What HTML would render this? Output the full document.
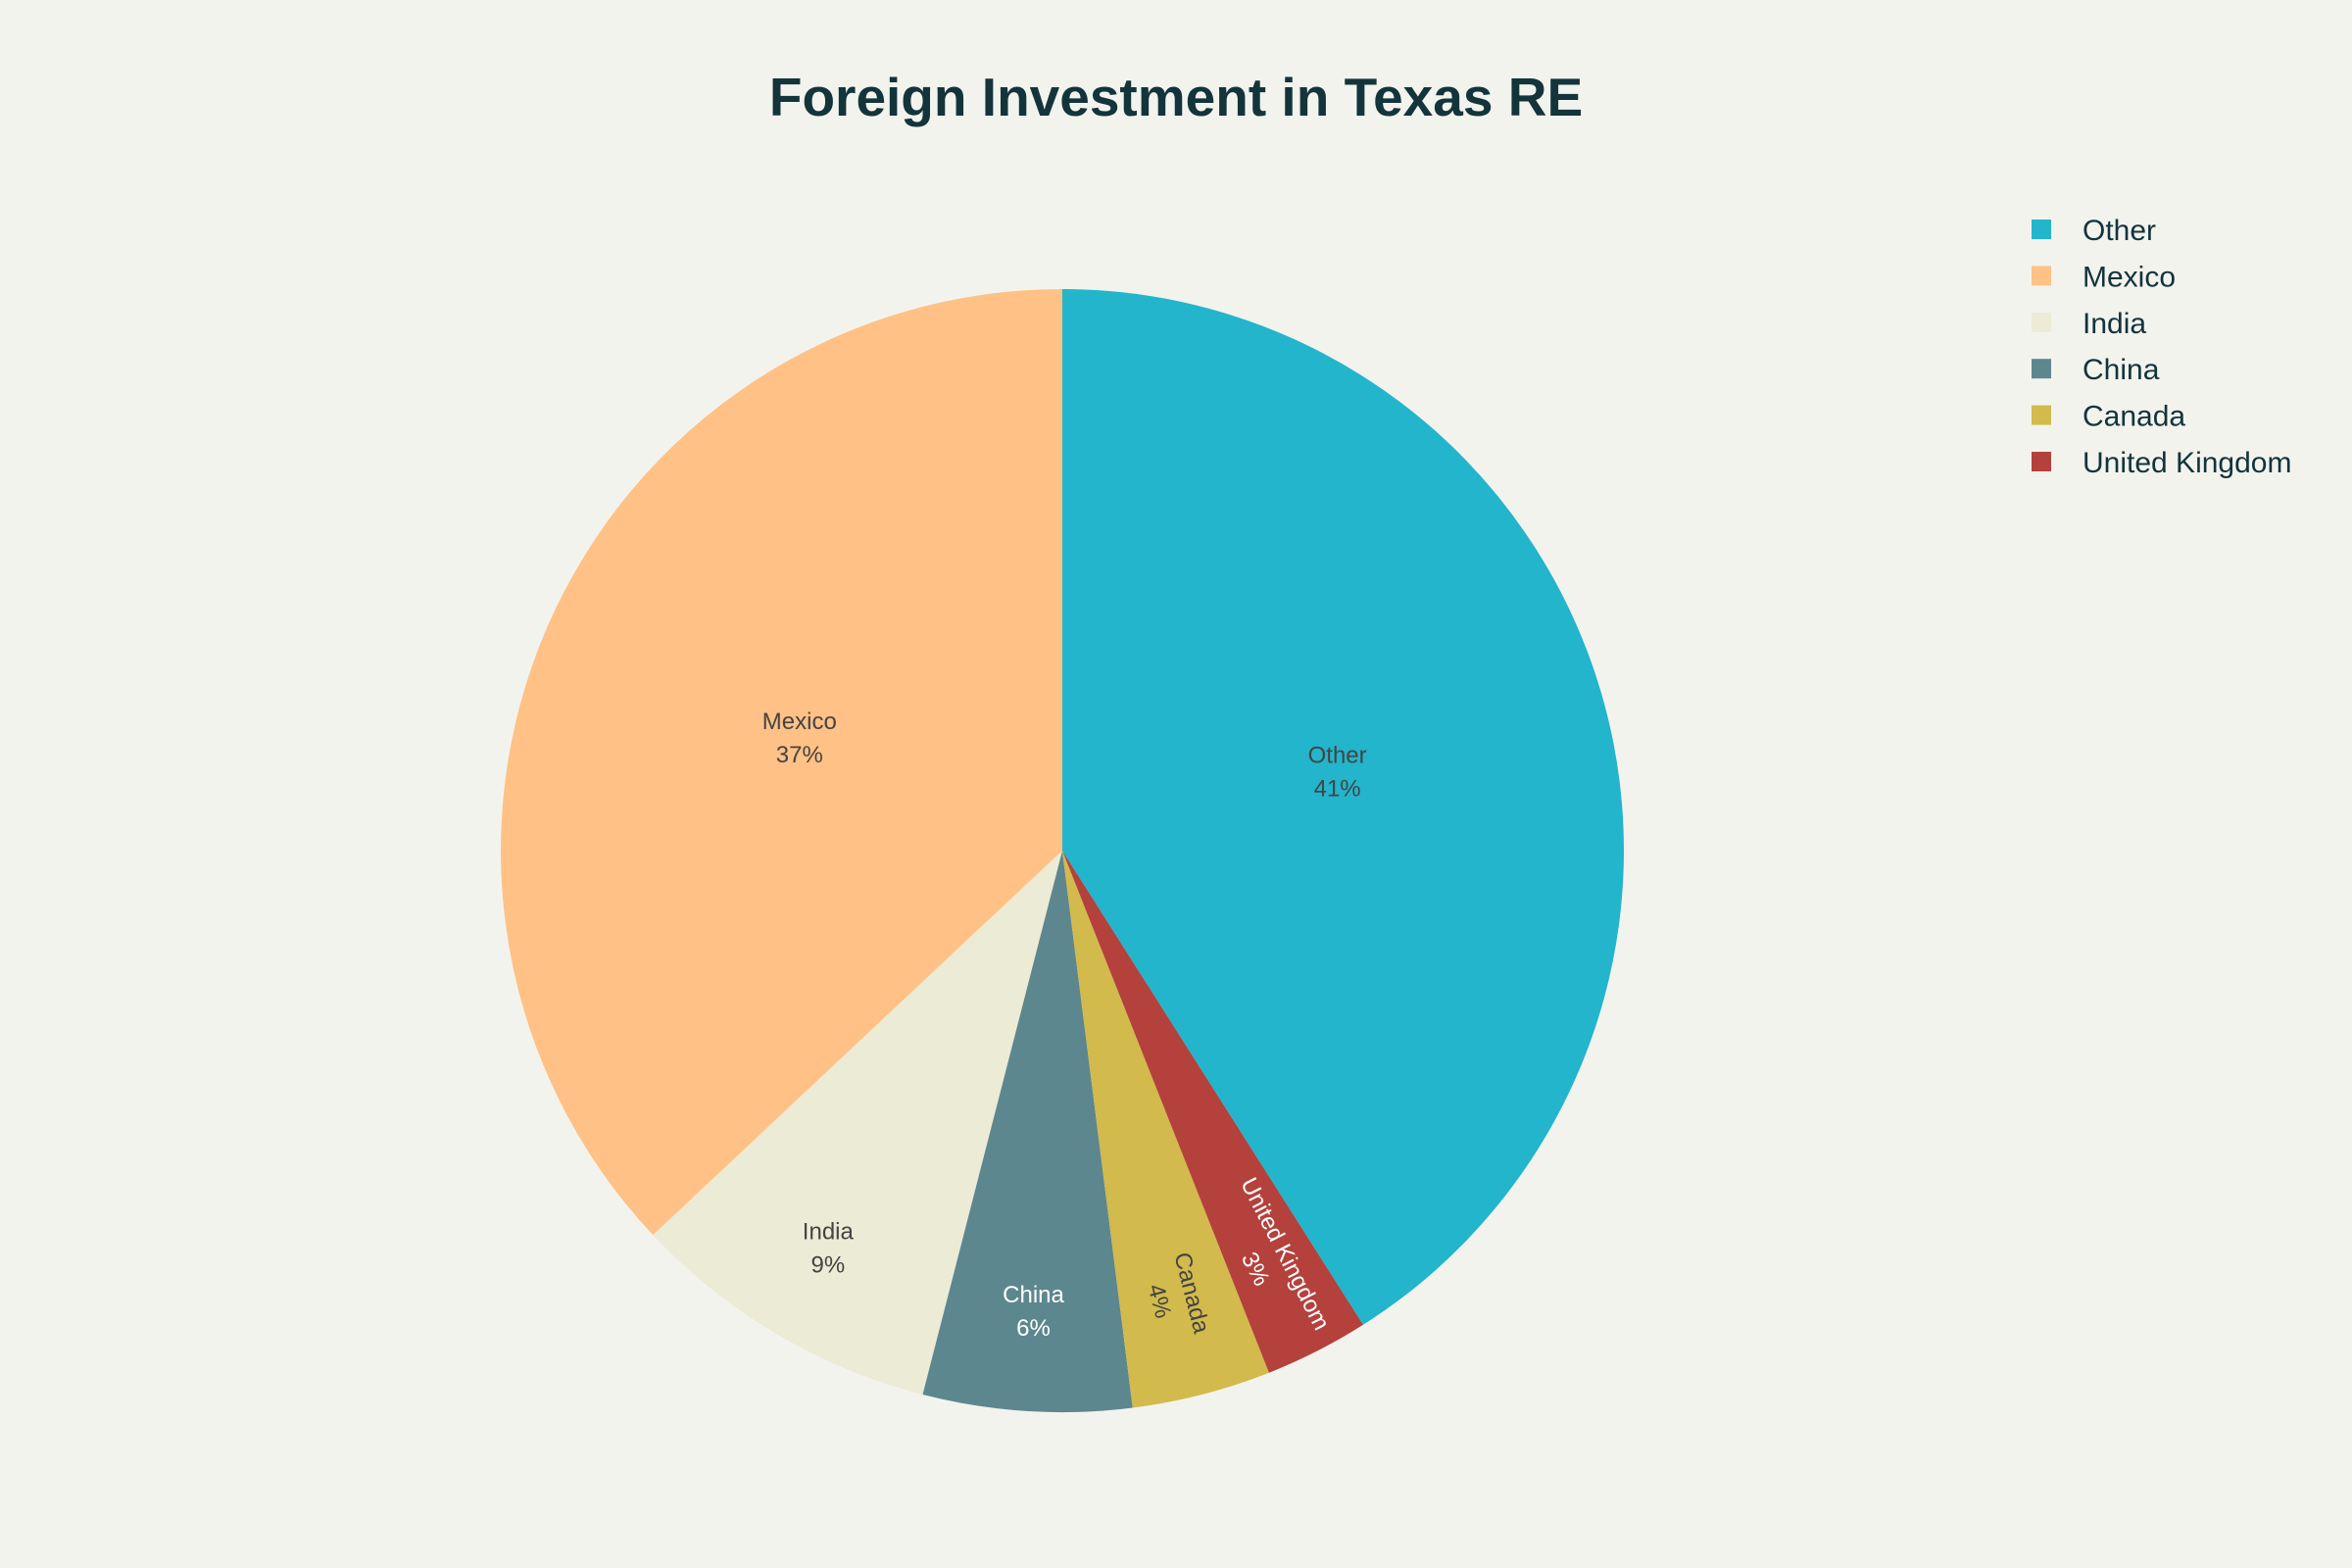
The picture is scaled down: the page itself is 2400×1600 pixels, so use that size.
<!DOCTYPE html>
<html><head><meta charset="utf-8">
<style>
html,body{margin:0;padding:0;background:#f3f3ee;}
svg{display:block;font-family:"Liberation Sans",sans-serif;}
</style></head>
<body>
<svg id="chart" width="2400" height="1600" viewBox="0 0 2400 1600">
<rect width="2400" height="1600" fill="#f3f3ee"/>
<text x="1200" y="118" text-anchor="middle" font-size="55" font-weight="bold" fill="#13343b">Foreign Investment in Texas RE</text>
<g id="slices"></g>
<g id="labels"></g>
<g id="legend"></g>
</svg>
<script>
const categories = ["Mexico","India","China","Canada","United Kingdom","Other"];
const values = [37, 9, 6, 4, 3, 41];
const legendOrder = ["Other","Mexico","India","China","Canada","United Kingdom"];
const colorMap = {"Other":"#22b5cc","Mexico":"#ffc185","India":"#ecebd5","China":"#5d878f","Canada":"#d2ba4c","United Kingdom":"#b4413c"};
const darkText = {"Other":true,"Mexico":true,"India":true,"Canada":true,"China":false,"United Kingdom":false};

const NS="http://www.w3.org/2000/svg";
const cx=1084, cy=868, R=573;
const total=values.reduce((a,b)=>a+b,0);
function pt(a,r){return [cx - r*Math.sin(a), cy - r*Math.cos(a)];}
const sg=document.getElementById('slices'), lg=document.getElementById('labels');
let cum=0;
categories.forEach((c,i)=>{
  const a0=cum/total*2*Math.PI; cum+=values[i]; const a1=cum/total*2*Math.PI;
  const p0=pt(a0,R), p1=pt(a1,R);
  const large=(a1-a0)>Math.PI?1:0;
  const p=document.createElementNS(NS,'path');
  p.setAttribute('d',`M${cx},${cy}L${p0[0]},${p0[1]}A${R},${R} 0 ${large} 0 ${p1[0]},${p1[1]}Z`);
  p.setAttribute('fill',colorMap[c]);
  
  
  sg.appendChild(p);
  const am=(a0+a1)/2;
  const frac=values[i]>=20?0.51:0.82;
  const lp=pt(am,R*frac);
  const g=document.createElementNS(NS,'g');
  
  
  let rot=0;
  if(values[i]<5){ rot=Math.atan2(lp[1]-cy, lp[0]-cx)*180/Math.PI; }
  g.setAttribute('transform',`translate(${lp[0]},${lp[1]}) rotate(${rot})`);
  const col=darkText[c]?'#444444':'#ffffff';
  const pct=Math.round(values[i]/total*100)+'%';
  [[c,-8],[pct,26]].forEach(([t,dy])=>{
    const tx=document.createElementNS(NS,'text');
    tx.setAttribute('x',0);tx.setAttribute('y',dy);
    tx.setAttribute('text-anchor','middle');tx.setAttribute('font-size','24');
    tx.setAttribute('fill',col);tx.textContent=t;
    g.appendChild(tx);
  });
  lg.appendChild(g);
});
const leg=document.getElementById('legend');
legendOrder.forEach((c,i)=>{
  const y=234+i*47.4;
  const g=document.createElementNS(NS,'g');
  
  
  const r=document.createElementNS(NS,'rect');
  r.setAttribute('x',2073);r.setAttribute('y',y-10);r.setAttribute('width',20);r.setAttribute('height',20);
  r.setAttribute('fill',colorMap[c]);
  g.appendChild(r);
  const t=document.createElementNS(NS,'text');
  t.setAttribute('x',2125);t.setAttribute('y',y+11);t.setAttribute('font-size','30');t.setAttribute('fill','#13343b');
  t.textContent=c;
  g.appendChild(t);
  leg.appendChild(g);
});
</script>
</body></html>
